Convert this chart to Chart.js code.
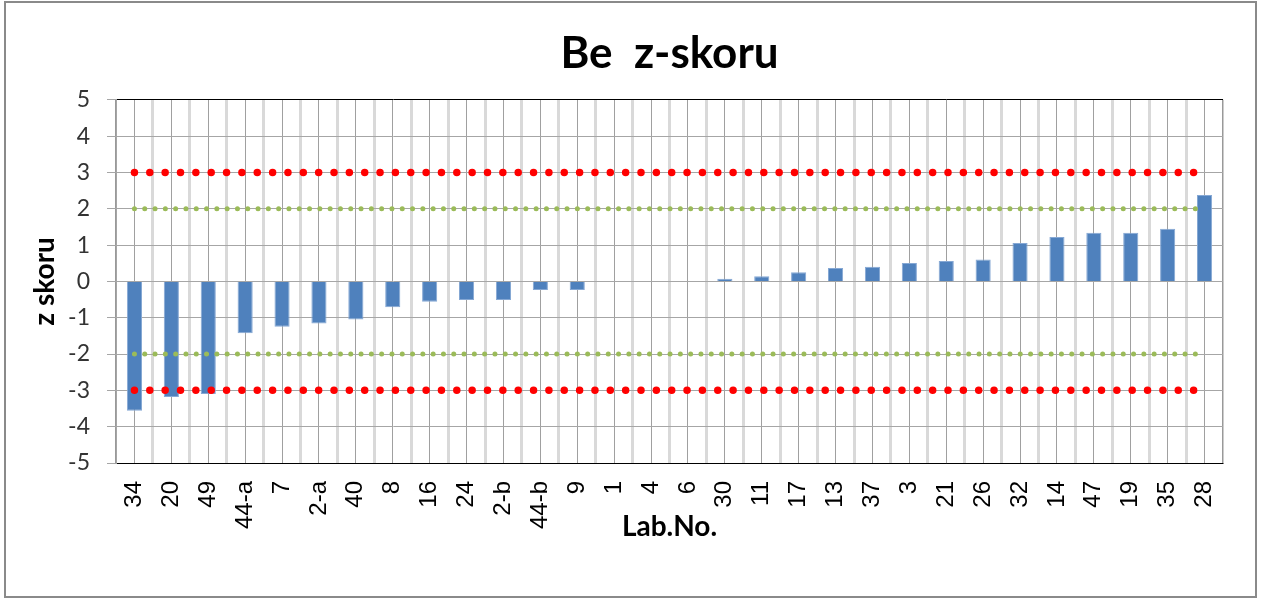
<!DOCTYPE html>
<html>
<head>
<meta charset="utf-8">
<script src="https://cdn.jsdelivr.net/npm/chart.js@4"></script>
<style>
  body { margin: 0; background: #fff; }
  #marco { position: absolute; left: 4px; top: 1px; width: 1253px; height: 597px; border: 2px solid #8a8a8a; box-sizing: border-box; }
  #caja { position: relative; width: 1249px; height: 593px; }
</style>
</head>
<body>
<div id="marco"><div id="caja"><canvas id="grafica"></canvas></div></div>
<script>
// datos
const labNo = ['34', '20', '49', '44-a', '7', '2-a', '40', '8', '16', '24', '2-b', '44-b', '9', '1', '4', '6',
               '30', '11', '17', '13', '37', '3', '21', '26', '32', '14', '47', '19', '35', '28'];
const zSkor = [-3.56, -3.18, -3.10, -1.43, -1.25, -1.16, -1.05, -0.71, -0.56, -0.51, -0.51, -0.24, -0.24, 0, 0, 0,
               0.07, 0.14, 0.25, 0.37, 0.40, 0.51, 0.56, 0.60, 1.06, 1.22, 1.34, 1.34, 1.45, 2.38];
const limiteRojo = [3, -3];   // |z| = 3
const limiteVerde = [2, -2];  // |z| = 2
const yTicks = [5, 4, 3, 2, 1, 0, -1, -2, -3, -4, -5];

// linea punteada horizontal de la primera a la ultima categoria
function linea(valor, color, ancho, paso) {
    return {
        type: 'line',
        data: [{ x: labNo[0], y: valor }, { x: labNo[labNo.length - 1], y: valor }],
        borderColor: color,
        borderWidth: ancho,
        borderDash: [0, paso],
        borderCapStyle: 'round',
        pointRadius: 0,
        fill: false,
        order: 0
    };
}

const ctx = document.getElementById('grafica').getContext('2d');
new Chart(ctx, {
    type: 'bar',
    data: {
        labels: labNo,
        datasets: [
            linea(limiteRojo[0], '#ff0000', 7.5, 15.35),
            linea(limiteRojo[1], '#ff0000', 7.5, 15.35),
            linea(limiteVerde[0], '#9bbb59', 5, 10.3),
            linea(limiteVerde[1], '#9bbb59', 5, 10.3),
            {
                label: 'z skoru',
                data: zSkor,
                backgroundColor: '#4f81bd',
                borderColor: '#86a8d4',
                borderWidth: 1,
                barPercentage: 0.41,
                categoryPercentage: 1,
                order: 1
            }
        ]
    },
    options: {
        responsive: true,
        maintainAspectRatio: false,
        animation: false,
        layout: { padding: { left: 0, right: 32, top: 0, bottom: 0 } },
        plugins: {
            legend: { display: false },
            tooltip: { enabled: false },
            title: {
                display: true,
                text: 'Be  z-skoru',
                fullSize: false,
                color: '#000',
                font: { family: 'Lato', size: 44, weight: 'bold' },
                padding: { top: 24, bottom: 20 }
            }
        },
        scales: {
            x: {
                offset: true,
                grid: {
                    offset: true,
                    drawTicks: false,
                    color: c => (c.type === 'scale' || c.index === 0) ? '#999999' : '#d9d9d9',
                    lineWidth: c => (c.type === 'scale' || c.index === 0) ? 1.5 : 3
                },
                border: { color: '#000', width: 1 },
                ticks: {
                    autoSkip: false,
                    maxRotation: 90,
                    minRotation: 90,
                    padding: 18,
                    color: '#000',
                    font: { family: 'Liberation Sans', size: 24 }
                },
                title: {
                    display: true,
                    text: 'Lab.No.',
                    color: '#000',
                    font: { family: 'Lato', size: 28, weight: 'bold' },
                    padding: { top: 0, bottom: 52 }
                },
                afterFit: s => { s.height = 133; }
            },
            x2: {
                type: 'category',
                position: 'bottom',
                offset: true,
                grid: { offset: false, drawTicks: false, color: '#a0a0a0', lineWidth: 1 },
                border: { display: false },
                ticks: { display: false },
                afterFit: s => { s.height = 0; }
            },
            y: {
                min: -5,
                max: 5,
                afterBuildTicks: s => { s.ticks = yTicks.map(v => ({ value: v })); },
                grid: {
                    color: c => (c.tick && Math.abs(c.tick.value) === 5) ? '#000' : '#a6a6a6',
                    tickColor: '#a6a6a6',
                    tickLength: 9,
                    lineWidth: 1
                },
                border: { color: '#a6a6a6' },
                ticks: {
                    padding: 17,
                    color: '#333',
                    font: { family: 'Lato', size: 23 }
                },
                title: {
                    display: true,
                    text: 'z skoru',
                    color: '#000',
                    font: { family: 'Lato', size: 28, weight: 'bold' },
                    padding: { top: 22, bottom: 0 }
                },
                afterFit: s => { s.width = 110; }
            }
        }
    }
});
</script>
</body>
</html>
